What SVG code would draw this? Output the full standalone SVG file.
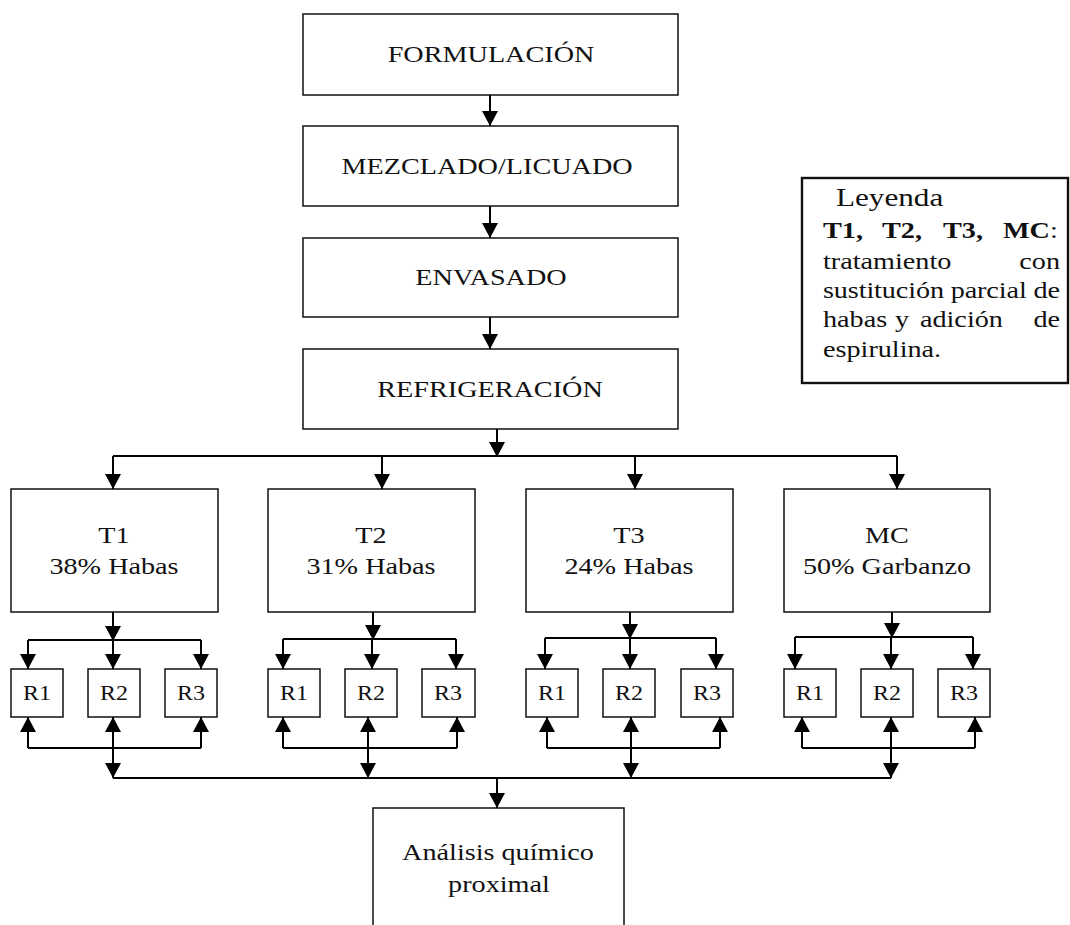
<svg xmlns="http://www.w3.org/2000/svg" width="1070" height="925" viewBox="0 0 1070 925">
  <defs>
    <style>
      .box { fill: #fff; stroke: #111; stroke-width: 1.5; }
      .leg { fill: #fff; stroke: #111; stroke-width: 2.4; }
      .lbl { font-family: "Liberation Serif", "Times New Roman", serif; font-size: 23.5px; fill: #111; text-anchor: middle; }
      .rl { font-family: "Liberation Serif", "Times New Roman", serif; font-size: 20px; fill: #111; text-anchor: middle; }
      .lt { font-family: "Liberation Serif", "Times New Roman", serif; font-size: 23.5px; fill: #111; }
      .b { font-weight: bold; }
      .wire { fill: none; stroke: #000; stroke-width: 2; }
      .arr { fill: none; stroke: #000; stroke-width: 2; marker-end: url(#ah); }
    </style>
    <marker id="ah" viewBox="0 0 15 16" refX="15" refY="8" markerWidth="15" markerHeight="16" markerUnits="userSpaceOnUse" orient="auto">
      <path d="M0 0 L15 8 L0 16 Z" fill="#000"/>
    </marker>
  </defs>
  <rect width="1070" height="925" fill="#fff"/>

  <!-- process steps -->
  <g id="formulacion">
    <rect class="box" x="303" y="14" width="375" height="81"/>
    <text class="lbl" transform="translate(491 62) scale(1.2 1)">FORMULACIÓN</text>
  </g>
  <g id="mezclado">
    <rect class="box" x="303" y="126" width="375" height="80"/>
    <text class="lbl" transform="translate(487 174) scale(1.2 1)">MEZCLADO/LICUADO</text>
  </g>
  <g id="envasado">
    <rect class="box" x="303" y="238" width="375" height="79"/>
    <text class="lbl" transform="translate(491 285) scale(1.2 1)">ENVASADO</text>
  </g>
  <g id="refrigeracion">
    <rect class="box" x="303" y="349" width="375" height="80"/>
    <text class="lbl" transform="translate(490 397) scale(1.2 1)">REFRIGERACIÓN</text>
  </g>

  <!-- legend -->
  <g id="leyenda">
    <rect class="leg" x="802" y="178" width="266" height="205"/>
    <g transform="translate(823 0) scale(1.2 1)">
      <text class="lt" x="10.8" y="206" style="font-size:26px">Leyenda</text>
      <text class="lt" y="238"><tspan class="b" x="0">T1,</tspan><tspan class="b" x="49.2">T2,</tspan><tspan class="b" x="100">T3,</tspan><tspan class="b" x="150">MC</tspan><tspan>:</tspan></text>
      <text class="lt" x="0" y="269">tratamiento</text>
      <text class="lt" x="197.5" y="269" text-anchor="end">con</text>
      <text class="lt" x="0" y="298" textLength="197.5" lengthAdjust="spacing">sustitución parcial de</text>
      <text class="lt" y="327"><tspan x="0">habas</tspan><tspan x="60">y</tspan><tspan x="80.8">adición</tspan></text>
      <text class="lt" x="197.5" y="327" text-anchor="end">de</text>
      <text class="lt" x="0" y="357">espirulina.</text>
    </g>
  </g>

  <!-- treatments -->
  <g id="t1">
    <rect class="box" x="11" y="489" width="207" height="123"/>
    <text class="lbl" transform="translate(114 543) scale(1.2 1)">T1</text>
    <text class="lbl" transform="translate(114 574) scale(1.2 1)">38% Habas</text>
  </g>
  <g id="t2">
    <rect class="box" x="268" y="489" width="207" height="123"/>
    <text class="lbl" transform="translate(371 543) scale(1.2 1)">T2</text>
    <text class="lbl" transform="translate(371 574) scale(1.2 1)">31% Habas</text>
  </g>
  <g id="t3">
    <rect class="box" x="526" y="489" width="207" height="123"/>
    <text class="lbl" transform="translate(629 543) scale(1.2 1)">T3</text>
    <text class="lbl" transform="translate(629 574) scale(1.2 1)">24% Habas</text>
  </g>
  <g id="mc">
    <rect class="box" x="784" y="489" width="206" height="123"/>
    <text class="lbl" transform="translate(887 543) scale(1.2 1)">MC</text>
    <text class="lbl" transform="translate(887 574) scale(1.2 1)">50% Garbanzo</text>
  </g>

  <!-- replicates -->
  <g id="t1-r1"><rect class="box" x="11" y="669" width="52" height="48"/><text class="rl" transform="translate(37 700) scale(1.2 1)">R1</text></g>
  <g id="t1-r2"><rect class="box" x="88" y="669" width="52" height="48"/><text class="rl" transform="translate(114 700) scale(1.2 1)">R2</text></g>
  <g id="t1-r3"><rect class="box" x="165" y="669" width="52" height="48"/><text class="rl" transform="translate(191 700) scale(1.2 1)">R3</text></g>
  <g id="t2-r1"><rect class="box" x="268" y="669" width="52" height="48"/><text class="rl" transform="translate(294 700) scale(1.2 1)">R1</text></g>
  <g id="t2-r2"><rect class="box" x="345" y="669" width="52" height="48"/><text class="rl" transform="translate(371 700) scale(1.2 1)">R2</text></g>
  <g id="t2-r3"><rect class="box" x="422" y="669" width="53" height="48"/><text class="rl" transform="translate(448 700) scale(1.2 1)">R3</text></g>
  <g id="t3-r1"><rect class="box" x="526" y="669" width="52" height="48"/><text class="rl" transform="translate(552 700) scale(1.2 1)">R1</text></g>
  <g id="t3-r2"><rect class="box" x="603" y="669" width="52" height="48"/><text class="rl" transform="translate(629 700) scale(1.2 1)">R2</text></g>
  <g id="t3-r3"><rect class="box" x="681" y="669" width="52" height="48"/><text class="rl" transform="translate(707 700) scale(1.2 1)">R3</text></g>
  <g id="mc-r1"><rect class="box" x="784" y="669" width="52" height="48"/><text class="rl" transform="translate(810 700) scale(1.2 1)">R1</text></g>
  <g id="mc-r2"><rect class="box" x="861" y="669" width="52" height="48"/><text class="rl" transform="translate(887 700) scale(1.2 1)">R2</text></g>
  <g id="mc-r3"><rect class="box" x="938" y="669" width="52" height="48"/><text class="rl" transform="translate(964 700) scale(1.2 1)">R3</text></g>

  <!-- final analysis (box runs off the bottom edge) -->
  <g id="analisis">
    <rect class="box" x="373" y="808" width="251" height="140"/>
    <text class="lbl" transform="translate(498 860) scale(1.2 1)">Análisis químico</text>
    <text class="lbl" transform="translate(499 892) scale(1.2 1)">proximal</text>
  </g>

  <!-- connectors -->
  <g id="connectors">
    <path class="arr" d="M490 95 V126"/>
    <path class="arr" d="M490 206 V238"/>
    <path class="arr" d="M490 317 V349"/>
    <path class="arr" d="M497 429 V457"/>

    <path class="wire" d="M113 456 H897"/>
    <path class="arr" d="M113 456 V489"/>
    <path class="arr" d="M382 456 V489"/>
    <path class="arr" d="M635 456 V489"/>
    <path class="arr" d="M897 456 V489"/>

    <!-- treatment to replicates -->
    <path class="arr" d="M113 612 V641"/>
    <path class="wire" d="M28 640 H201"/>
    <path class="arr" d="M28 640 V669"/>
    <path class="arr" d="M113 640 V669"/>
    <path class="arr" d="M201 640 V669"/>

    <path class="arr" d="M373 612 V640"/>
    <path class="wire" d="M283 639 H456"/>
    <path class="arr" d="M283 639 V669"/>
    <path class="arr" d="M372 639 V669"/>
    <path class="arr" d="M456 639 V669"/>

    <path class="arr" d="M630 612 V639"/>
    <path class="wire" d="M545 638 H716"/>
    <path class="arr" d="M545 638 V669"/>
    <path class="arr" d="M630 638 V669"/>
    <path class="arr" d="M716 638 V669"/>

    <path class="arr" d="M892 612 V638"/>
    <path class="wire" d="M795 637 H973"/>
    <path class="arr" d="M795 637 V669"/>
    <path class="arr" d="M891 637 V669"/>
    <path class="arr" d="M973 637 V669"/>

    <!-- replicates to analysis -->
    <path class="wire" d="M28 748 H201"/>
    <path class="arr" d="M28 748 V717"/>
    <path class="arr" d="M113 748 V717"/>
    <path class="arr" d="M201 748 V717"/>
    <path class="arr" d="M113 748 V778"/>

    <path class="wire" d="M283 748 H457"/>
    <path class="arr" d="M283 748 V717"/>
    <path class="arr" d="M368 748 V717"/>
    <path class="arr" d="M457 748 V717"/>
    <path class="arr" d="M368 748 V778"/>

    <path class="wire" d="M547 748 H720"/>
    <path class="arr" d="M547 748 V717"/>
    <path class="arr" d="M631 748 V717"/>
    <path class="arr" d="M720 748 V717"/>
    <path class="arr" d="M631 748 V778"/>

    <path class="wire" d="M802 748 H975"/>
    <path class="arr" d="M802 748 V717"/>
    <path class="arr" d="M891 748 V717"/>
    <path class="arr" d="M975 748 V717"/>
    <path class="arr" d="M891 748 V778"/>

    <path class="wire" d="M113 778 H891"/>
    <path class="arr" d="M497 778 V808"/>
  </g>
</svg>
